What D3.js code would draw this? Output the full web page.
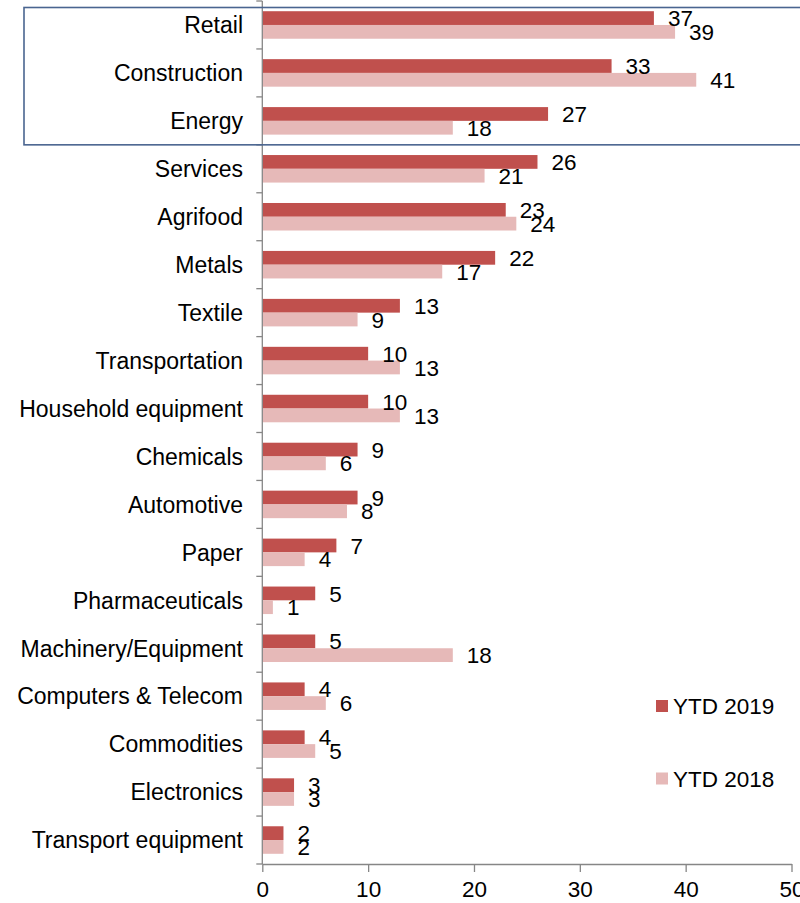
<!DOCTYPE html>
<html>
<head>
<meta charset="utf-8">
<script src="https://cdn.jsdelivr.net/npm/d3@7"></script>
<style>
  body { margin: 0; background: #fff; }
  svg { display: block; font-family: "Liberation Sans", Arial, sans-serif; }
</style>
</head>
<body>
<div id="chart"></div>
<script>
// categories, top to bottom
const categories = ["Retail", "Construction", "Energy", "Services", "Agrifood", "Metals",
  "Textile", "Transportation", "Household equipment", "Chemicals", "Automotive", "Paper",
  "Pharmaceuticals", "Machinery/Equipment", "Computers & Telecom", "Commodities",
  "Electronics", "Transport equipment"];
const ytd2019 = [37, 33, 27, 26, 23, 22, 13, 10, 10, 9, 9, 7, 5, 5, 4, 4, 3, 2];
const ytd2018 = [39, 41, 18, 21, 24, 17, 9, 13, 13, 6, 8, 4, 1, 18, 6, 5, 3, 2];
const seriesNames = ["YTD 2019", "YTD 2018"];
const xTicks = [0, 10, 20, 30, 40, 50];
const highlighted = ["Retail", "Construction", "Energy"];

const width = 800, height = 903;
const colors = ["#C0504D", "#E6B9B8"];
const axisColor = "#868686";

const svg = d3.select("#chart").append("svg")
  .attr("width", width)
  .attr("height", height);

const x = d3.scaleLinear().domain([0, 50]).range([262.3, 791.5]);
const y = d3.scaleBand().domain(categories).range([1, 864]).paddingInner(0).paddingOuter(0);
const barH = y.bandwidth() * 0.287;
const groupOff = (y.bandwidth() - 2 * barH) / 2;

const data = categories.map((c, i) => ({ cat: c, vals: [ytd2019[i], ytd2018[i]] }));

// bars
const groups = svg.append("g").selectAll("g")
  .data(data)
  .join("g")
  .attr("transform", d => `translate(0,${y(d.cat) + groupOff})`);

groups.selectAll("rect")
  .data(d => d.vals)
  .join("rect")
  .attr("x", x(0))
  .attr("y", (v, i) => i * barH)
  .attr("width", v => x(v) - x(0))
  .attr("height", barH)
  .attr("fill", (v, i) => colors[i]);

// value labels (overlaps kept as in the original)
groups.selectAll("text")
  .data(d => d.vals)
  .join("text")
  .attr("x", v => x(v) + 14)
  .attr("y", (v, i) => i * barH + barH / 2)
  .attr("dy", "0.36em")
  .attr("font-size", 22.5)
  .attr("fill", "#000")
  .text(v => v);

// y axis: line, ticks at band boundaries, labels
const yAxis = svg.append("g");
yAxis.append("line")
  .attr("x1", x(0)).attr("x2", x(0))
  .attr("y1", y.range()[0]).attr("y2", y.range()[1])
  .attr("stroke", axisColor).attr("stroke-width", 1.3);
const bounds = categories.map(c => y(c)).concat([y.range()[1]]);
yAxis.selectAll("line.tick")
  .data(bounds)
  .join("line")
  .attr("class", "tick")
  .attr("x1", x(0) - 6).attr("x2", x(0))
  .attr("y1", d => d).attr("y2", d => d)
  .attr("stroke", axisColor).attr("stroke-width", 1.3);
yAxis.selectAll("text")
  .data(categories)
  .join("text")
  .attr("x", 243)
  .attr("y", d => y(d) + y.bandwidth() / 2)
  .attr("dy", "0.36em")
  .attr("text-anchor", "end")
  .attr("font-size", 23)
  .attr("fill", "#000")
  .text(d => d);

// x axis
const xAxis = svg.append("g")
  .attr("transform", `translate(0,${y.range()[1]})`)
  .call(d3.axisBottom(x).tickValues(xTicks).tickSize(8).tickPadding(9).tickSizeOuter(0));
xAxis.select(".domain").attr("stroke", axisColor).attr("stroke-width", 1.3);
xAxis.selectAll(".tick line").attr("stroke", axisColor).attr("stroke-width", 1.3);
xAxis.selectAll(".tick text")
  .attr("font-size", 22.5)
  .attr("font-family", "Liberation Sans, Arial, sans-serif")
  .attr("fill", "#000");

// highlight box around the top three rows
const hiTop = y(highlighted[0]) + 6.5;
const hiBottom = y(highlighted[highlighted.length - 1]) + y.bandwidth();
svg.append("rect")
  .attr("x", 24)
  .attr("y", hiTop)
  .attr("width", 800)
  .attr("height", hiBottom - hiTop)
  .attr("fill", "none")
  .attr("stroke", "#4A6590")
  .attr("stroke-width", 1.6);

// legend
const legend = svg.append("g").selectAll("g")
  .data(seriesNames)
  .join("g")
  .attr("transform", (d, i) => `translate(656,${700 + i * 72.5})`);
legend.append("rect")
  .attr("width", 12).attr("height", 12)
  .attr("fill", (d, i) => colors[i]);
legend.append("text")
  .attr("x", 17)
  .attr("y", 6)
  .attr("dy", "0.36em")
  .attr("font-size", 22.5)
  .attr("fill", "#000")
  .text(d => d);
</script>
</body>
</html>
